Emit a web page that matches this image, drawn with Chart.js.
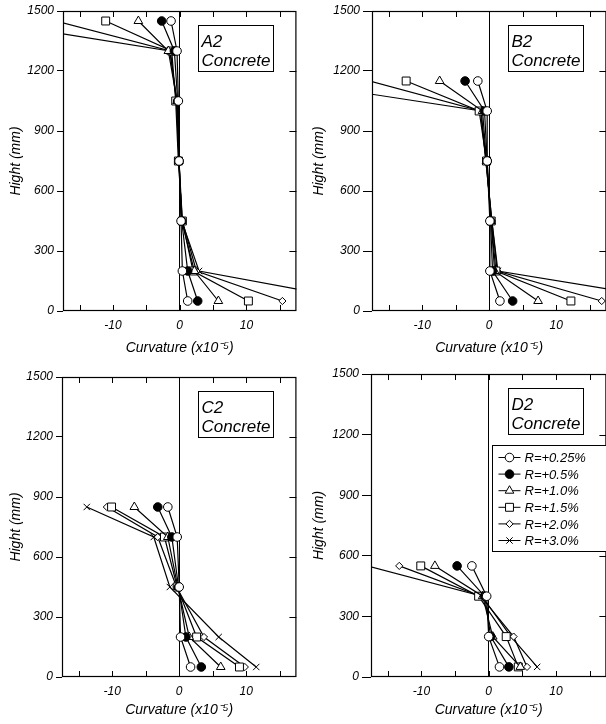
<!DOCTYPE html>
<html>
<head>
<meta charset="utf-8">
<script src="https://cdn.jsdelivr.net/npm/chart.js@4.4.1/dist/chart.umd.min.js"></script>
<style>
  body { margin: 0; width: 606px; height: 724px; overflow: hidden; background: #fff; position: relative; }
  canvas { position: absolute; }
</style>
</head>
<body>
<canvas id="cA" width="303" height="362" style="left:0;top:0"></canvas>
<canvas id="cB" width="310" height="362" style="left:303px;top:0"></canvas>
<canvas id="cC" width="303" height="362" style="left:0;top:362px"></canvas>
<canvas id="cD" width="310" height="362" style="left:303px;top:362px"></canvas>
<script>
// drift ratios (series)
const rLabels = ['R=+0.25%', 'R=+0.5%', 'R=+1.0%', 'R=+1.5%', 'R=+2.0%', 'R=+3.0%'];
const xTickValues = [-15, -10, -5, 0, 5, 10, 15];
const yTickValues = [0, 300, 600, 900, 1200, 1500];

// A2 - heights (mm) and curvature (x10^-5), one row per drift ratio
const hA = [50, 200, 450, 750, 1050, 1300, 1450];
const kA = [
  [1.2, 0.4, 0.2, -0.1, -0.2, -0.4, -1.3],
  [2.7, 1.2, 0.3, -0.1, -0.3, -0.8, -2.7],
  [5.8, 2.2, 0.3, -0.1, -0.4, -1.7, -6.2],
  [10.3, 2.0, 0.4, -0.2, -0.6, -1.2, -11.1],
  [15.4, 2.5, 0.4, -0.1, -0.5, -1.4, -18.6],
  [27.2, 2.9, 0.3, -0.1, -0.4, -1.5, -29.7]
];

// B2
const hB = [50, 200, 450, 750, 1000, 1150];
const kB = [
  [1.6, 0.1, 0.1, -0.3, -0.3, -1.7],
  [3.5, 0.5, 0.2, -0.3, -0.7, -3.6],
  [7.3, 0.8, 0.3, -0.4, -1.0, -7.4],
  [12.2, 1.0, 0.3, -0.4, -1.5, -12.4],
  [16.8, 1.2, 0.4, -0.5, -1.3, -17.9],
  [28.5, 1.3, 0.4, -0.5, -1.2, -30.4]
];

// C2
const hC = [50, 200, 450, 700, 850];
const kC = [
  [1.7, 0.2, 0.0, -0.3, -1.7],
  [3.3, 1.0, -0.1, -1.1, -3.2],
  [6.2, 1.5, -0.2, -1.7, -6.7],
  [9.0, 2.6, -0.3, -2.2, -10.1],
  [9.8, 3.7, -0.4, -3.2, -10.8],
  [11.5, 5.9, -1.4, -3.8, -13.8]
];

// D2
const hD = [50, 200, 400, 550];
const kD = [
  [1.6, 0.0, -0.3, -2.5],
  [3.0, 0.3, -0.6, -4.7],
  [4.7, 0.6, -0.9, -8.0],
  [4.4, 2.6, -1.5, -10.1],
  [5.7, 3.7, -1.2, -13.3],
  [7.2, 3.3, -1.0, -18.0]
];

const markerStyles = ['circle', 'circle', 'triangle', 'rect', 'rectRot', 'crossRot'];
const markerFills = ['#fff', '#000', '#fff', '#fff', '#fff', '#fff'];
const markerSizes = [4.3, 4.3, 5, 5.6, 3.6, 4.5];

const FONT = "'Liberation Sans', Arial, sans-serif";

function drawMarker(ctx, i, x, y) {
  const opts = { pointStyle: markerStyles[i], radius: markerSizes[i], rotation: 0, borderWidth: 1 };
  ctx.fillStyle = markerFills[i];
  ctx.strokeStyle = '#000';
  ctx.lineWidth = 1;
  Chart.helpers.drawPoint(ctx, opts, x, y);
}

const framePlugin = {
  id: 'frame',
  afterDraw(chart, args, opts) {
    const { ctx, chartArea: a, scales: { x, y } } = chart;
    ctx.save();
    ctx.strokeStyle = '#000';
    ctx.lineWidth = 1.2;
    ctx.strokeRect(a.left + 0.5, a.top + 0.5, a.right - a.left - 1, a.bottom - a.top - 1);
    ctx.lineWidth = 1;
    ctx.beginPath();
    xTickValues.forEach(v => {
      const px = Math.round(x.getPixelForValue(v)) + 0.5;
      ctx.moveTo(px, a.bottom); ctx.lineTo(px, a.bottom - 6);
      ctx.moveTo(px, a.top); ctx.lineTo(px, a.top + 6);
    });
    yTickValues.slice(1, -1).forEach(v => {
      const py = Math.round(y.getPixelForValue(v)) + 0.5;
      ctx.moveTo(a.right, py); ctx.lineTo(a.right - 7, py);
    });
    ctx.stroke();

    // specimen label
    const bx = Math.round(a.right - 98) + 0.5, by = Math.round(a.top + 14) + 0.5;
    ctx.fillStyle = '#fff';
    ctx.fillRect(bx, by, 75, 46);
    ctx.strokeRect(bx, by, 75, 46);
    ctx.fillStyle = '#000';
    ctx.font = 'italic 17px ' + FONT;
    ctx.textBaseline = 'middle';
    ctx.textAlign = 'left';
    ctx.fillText(opts.name, bx + 3, by + 17);
    ctx.fillText('Concrete', bx + 3, by + 36);

    if (opts.legend) {
      const lx = Math.round(a.right - 114) + 0.5, ly = Math.round(a.top + 71) + 0.5;
      ctx.fillStyle = '#fff';
      ctx.fillRect(lx, ly, 118, 106);
      ctx.strokeRect(lx, ly, 118, 106);
      ctx.font = 'italic 13px ' + FONT;
      chart.data.datasets.forEach((ds, i) => {
        const cy = ly + 12 + i * 16.6;
        ctx.beginPath();
        ctx.moveTo(lx + 6, cy); ctx.lineTo(lx + 28, cy);
        ctx.strokeStyle = '#000';
        ctx.stroke();
        drawMarker(ctx, i, lx + 17, cy);
        ctx.fillStyle = '#000';
        ctx.fillText(ds.label, lx + 32, cy + 1);
      });
    }
    ctx.restore();
  }
};

function makePanel(id, name, heights, curves, cfg) {
  const datasets = curves.map((row, i) => ({
    label: rLabels[i],
    data: row.map((k, j) => ({ x: k, y: heights[j] })),
    showLine: true,
    borderColor: '#000',
    borderWidth: 1.2,
    pointStyle: markerStyles[i],
    pointRadius: markerSizes[i],
    pointBackgroundColor: markerFills[i],
    pointBorderColor: '#000',
    pointBorderWidth: 1,
    pointHoverRadius: markerSizes[i]
  }));
  const el = document.getElementById(id);
  return new Chart(el, {
    type: 'scatter',
    data: { datasets },
    plugins: [framePlugin],
    options: {
      responsive: false,
      animation: false,
      events: [],
      layout: { padding: { left: 0, top: cfg.top, right: cfg.right, bottom: 0 } },
      plugins: {
        legend: { display: false },
        tooltip: { enabled: false },
        frame: { name: name, legend: !!cfg.legend }
      },
      scales: {
        x: {
          type: 'linear',
          min: -17.5,
          max: 17.5,
          afterBuildTicks: s => { s.ticks = xTickValues.map(v => ({ value: v })); },
          afterFit: s => { s.height = el.height - cfg.bottom; },
          border: { display: false },
          grid: {
            drawTicks: false,
            color: c => (c.tick && c.tick.value === 0 ? '#000' : 'rgba(0,0,0,0)'),
            lineWidth: 1
          },
          ticks: {
            autoSkip: false,
            maxRotation: 0,
            padding: 7,
            color: '#000',
            font: { family: FONT, size: 12, style: 'italic' },
            callback: v => (v % 10 === 0 ? String(v) : '')
          },
          title: {
            display: true,
            text: 'Curvature (x10⁻⁵)',
            color: '#000',
            font: { family: FONT, size: 14, style: 'italic' },
            padding: { top: 0, bottom: 5 }
          }
        },
        y: {
          type: 'linear',
          min: 0,
          max: 1500,
          afterBuildTicks: s => { s.ticks = yTickValues.map(v => ({ value: v })); },
          afterFit: s => { s.width = cfg.left; },
          border: { display: false },
          grid: {
            drawOnChartArea: false,
            drawTicks: true,
            tickLength: cfg.tick,
            tickColor: '#000'
          },
          ticks: {
            padding: 3,
            color: '#000',
            font: { family: FONT, size: 12, style: 'italic' },
            callback: v => String(v)
          },
          title: {
            display: true,
            text: 'Hight (mm)',
            color: '#000',
            font: { family: FONT, size: 14, style: 'italic' },
            padding: { top: 8, bottom: 0 }
          }
        }
      }
    }
  });
}

makePanel('cA', 'A2', hA, kA, { left: 63, top: 11, right: 2, bottom: 311, tick: 6 });
makePanel('cB', 'B2', hB, kB, { left: 69, top: 11, right: 3, bottom: 311, tick: 9 });
makePanel('cC', 'C2', hC, kC, { left: 62, top: 15, right: 3, bottom: 315, tick: 6 });
makePanel('cD', 'D2', hD, kD, { left: 68, top: 12, right: 3, bottom: 315, tick: 9, legend: true });
</script>
</body>
</html>
